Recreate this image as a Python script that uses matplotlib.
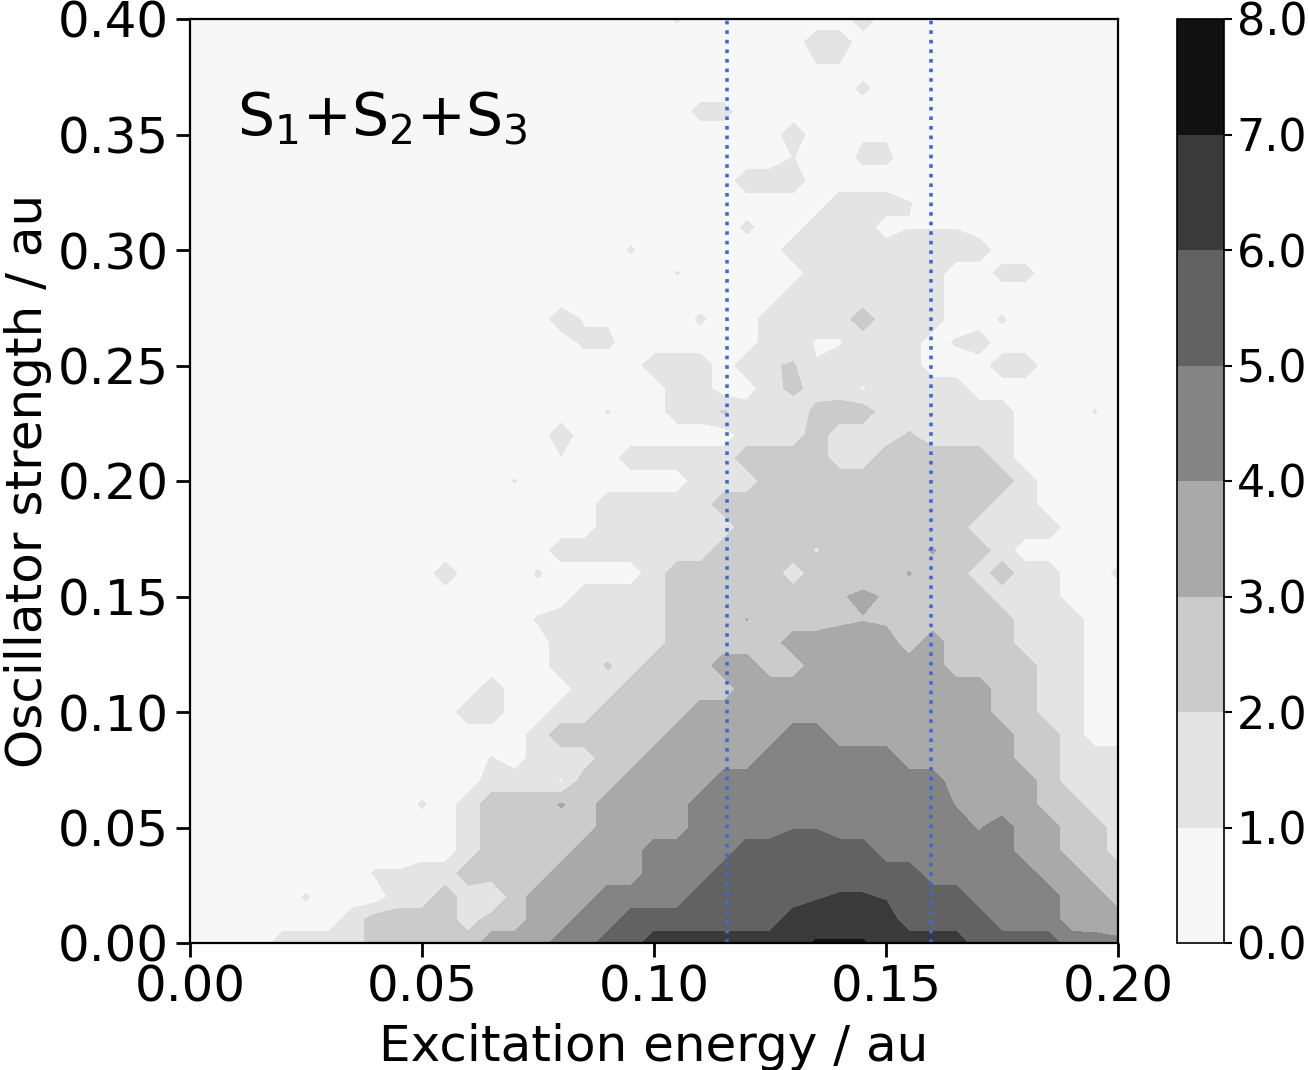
import numpy as np
import matplotlib
matplotlib.use("Agg")
import matplotlib.pyplot as plt

# density: one digit per grid cell = band number, bottom row first
# columns are grouped by five to keep them countable
density_rows = [
    "00001 11122 22233 34455 66666 66666 66665 55544 4",
    "00000 00122 22122 33445 55555 56666 65555 44433 3",
    "00000 00001 12112 33344 44555 55555 55554 44433 2",
    "00000 00000 11222 23333 44455 55555 55444 44332 2",
    "00000 00000 00122 22333 44445 55555 44444 43322 1",
    "00000 00000 00122 22233 33444 44444 44444 43322 1",
    "00000 00000 00122 22233 33444 44444 44433 33221 1",
    "00000 00000 00011 11223 33344 44444 44433 33211 1",
    "00000 00000 00000 11122 33333 44444 43333 32211 1",
    "00000 00000 00000 12222 23333 34433 33333 32210 0",
    "00000 00000 00110 01122 22333 33333 33333 22110 0",
    "00000 00000 00010 00112 22223 33333 33333 22110 0",
    "00000 00000 00000 01111 22233 22333 33322 22110 0",
    "00000 00000 00000 01111 12222 23333 32322 21110 0",
    "00000 00000 00000 01111 12222 22222 22222 21110 0",
    "00000 00000 00000 00111 12222 22223 22222 11100 0",
    "00000 00000 01000 00000 12222 21222 22221 21100 0",
    "00000 00000 00000 01111 11122 22222 22222 10000 0",
    "00000 00000 00000 00011 11112 22222 22221 11100 0",
    "00000 00000 00000 00011 11122 22222 22222 11000 0",
    "00000 00000 00000 00000 00111 22222 22222 21000 0",
    "00000 00000 00000 00001 11112 22211 22222 10000 0",
    "00000 00000 00000 01000 00001 11211 11111 10000 0",
    "00000 00000 00000 00000 01111 11222 11111 10000 0",
    "00000 00000 00000 00000 01100 12111 11110 00000 0",
    "00000 00000 00000 00000 11101 11111 11000 11000 0",
    "00000 00000 00000 00000 00000 11001 11001 00000 0",
    "00000 00000 00000 01000 00000 11112 11100 00000 0",
    "00000 00000 00000 00000 00000 01111 11100 00000 0",
    "00000 00000 00000 00000 00000 00111 11100 00000 0",
    "00000 00000 00000 00000 00000 01111 11111 00000 0",
    "00000 00000 00000 00000 00000 00111 00000 00000 0",
    "00000 00000 00000 00000 00000 00011 10000 00000 0",
    "00000 00000 00000 00000 00001 11000 00000 00000 0",
    "00000 00000 00000 00000 00000 00000 00000 00000 0",
    "00000 00000 00000 00000 00000 01000 00000 00000 0",
    "00000 00000 00000 00000 00000 00000 00000 00000 0",
    "00000 00000 00000 00000 00000 00000 00000 00000 0",
    "00000 00000 00000 00000 00000 00000 00000 00000 0",
    "00000 00000 00000 00000 00000 00110 00000 00000 0",
    "00000 00000 00000 00000 00000 00001 00000 00000 0",
]

# cells where the value sits close to a contour level (row, column, value)
spots = [
    (0, 27, 7.1), (0, 28, 7.1), (0, 29, 7.1), (0, 38, 4.5), (0, 39, 4.4), (0, 40, 4.2),
    (2, 5, 1.1), (2, 13, 0.9), (2, 27, 5.9), (2, 28, 6.1), (2, 29, 6.1), (2, 30, 5.9),
    (3, 8, 1.1), (3, 9, 1.1), (5, 26, 4.95), (5, 27, 4.95), (5, 34, 3.9),
    (6, 10, 1.1), (6, 16, 3.1), (6, 33, 3.95), (6, 34, 3.95), (7, 16, 0.9), (8, 13, 1.05),
    (12, 18, 2.1), (14, 15, 1.1), (14, 24, 3.02), (14, 28, 2.8), (14, 29, 2.95), (14, 30, 2.8),
    (15, 28, 2.9), (15, 29, 3.2), (15, 30, 2.9),
    (16, 15, 1.1), (16, 31, 3.05), (16, 40, 1.2), (17, 27, 1.9), (17, 32, 3.1), (19, 27, 1.95),
    (20, 14, 1.05), (21, 16, 0.95), (22, 31, 2.1), (23, 18, 1.05), (23, 23, 2.1), (23, 27, 2.2),
    (23, 39, 1.05), (24, 25, 1.7), (24, 26, 2.2), (24, 27, 1.7), (24, 29, 0.9),
    (25, 25, 1.9), (25, 26, 2.1), (25, 27, 1.05),
    (26, 17, 1.2), (26, 18, 1.2), (26, 27, 0.9), (26, 28, 0.9), (26, 33, 1.1),
    (27, 17, 0.9), (27, 18, 0.9), (27, 22, 1.15), (27, 35, 1.1), (29, 21, 1.05), (29, 35, 1.3),
    (29, 36, 1.3), (30, 19, 1.1), (31, 24, 1.2), (31, 31, 0.95), (31, 32, 0.95), (31, 33, 0.95),
    (32, 31, 1.05), (34, 26, 1.02), (34, 29, 1.2), (34, 30, 1.2), (35, 29, 0.9), (35, 30, 0.9),
    (36, 22, 1.3), (36, 23, 1.3), (37, 29, 1.2), (38, 27, 0.95), (38, 28, 0.95), (39, 32, 1.02),
    (40, 21, 1.1),
]

energy = np.arange(41) * 0.005
strength = np.arange(41) * 0.01
levels = np.arange(9)
window = [0.1157, 0.1597]
xticks = [0.00, 0.05, 0.10, 0.15, 0.20]
yticks = [0.00, 0.05, 0.10, 0.15, 0.20, 0.25, 0.30, 0.35, 0.40]


def main():
    z = np.array([[int(c) + 0.5 for c in "".join(r.split())] for r in density_rows])
    for row, col, value in spots:
        z[row, col] = value

    fig = plt.figure(figsize=(13.08, 10.70), dpi=100)
    ax = fig.add_axes([190 / 1308, 1 - 943 / 1070, 928 / 1308, 924 / 1070])
    cax = fig.add_axes([1177 / 1308, 1 - 943 / 1070, 47 / 1308, 924 / 1070])

    cs = ax.contourf(energy, strength, z, levels=levels, cmap="Greys", vmin=0, vmax=8)
    for x in window:
        ax.axvline(x, color="#3a6ecb", linestyle=":", linewidth=2.6)

    ax.set_xlim(0, 0.2)
    ax.set_ylim(0, 0.4)
    ax.set_xticks(xticks)
    ax.set_yticks(yticks)
    ax.set_xticklabels(["%.2f" % t for t in xticks])
    ax.set_yticklabels(["%.2f" % t for t in yticks])
    ax.tick_params(labelsize=36, length=10, width=2, pad=5)
    for s in ax.spines.values():
        s.set_linewidth(1.6)

    ax.set_xlabel("Excitation energy / au", fontsize=36, labelpad=8)
    ax.set_ylabel("Oscillator strength / au", fontsize=36, labelpad=4)
    ax.text((237 - 190) / 928, (943 - 118) / 924, r"S$_1$+S$_2$+S$_3$", fontsize=42,
            va="center", ha="left", transform=ax.transAxes)

    cb = fig.colorbar(cs, cax=cax, format="%.1f")
    cb.set_ticks(levels)
    cb.ax.tick_params(labelsize=32, length=6, width=1.5, pad=3)
    cb.outline.set_linewidth(1.2)

    fig.savefig("out.png", dpi=100)


if __name__ == "__main__":
    main()
